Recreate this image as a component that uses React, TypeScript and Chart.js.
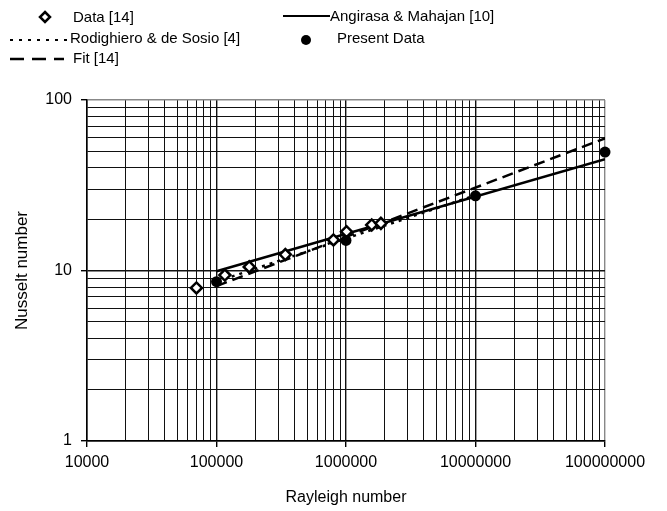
import React, { useEffect, useRef } from 'react';
import { Chart, registerables } from 'chart.js';

Chart.register(...registerables);

// ---- data ----
const dataRa = [70000, 116000, 179000, 340000, 800000, 1010000, 1580000, 1860000];
const dataNu = [7.9, 9.4, 10.5, 12.4, 15.1, 16.9, 18.5, 18.9];

const presentRa = [100000, 1000000, 10000000, 100000000];
const presentNu = [8.6, 15.0, 27.4, 49.5];

const angirasaRa = [100000, 100000000];
const angirasaNu = [9.9, 45.0];

const rodighieroRa = [100000, 10000000];
const rodighieroNu = [8.6, 27.6];

const fitRa = [100000, 100000000];
const fitNu = [8.1, 59.6];

// ---- axis ticks ----
const xDecades = [10000, 100000, 1000000, 10000000, 100000000];
const yDecades = [1, 10, 100];
const minorMultipliers = [2, 3, 4, 5, 6, 7, 8, 9];

const FONT = "'Liberation Sans', Arial, Helvetica, sans-serif";

function buildTicks(decades: number[]) {
  const vals: number[] = [];
  decades.forEach((d, i) => {
    vals.push(d);
    if (i < decades.length - 1) minorMultipliers.forEach((m) => vals.push(d * m));
  });
  return vals;
}
const xTickValues = buildTicks(xDecades);
const yTickValues = buildTicks(yDecades);

const isDecade = (v: number) => {
  const l = Math.log10(v);
  return Math.abs(l - Math.round(l)) < 1e-9;
};

const pts = (xs: number[], ys: number[]) => xs.map((x, i) => ({ x, y: ys[i] }));

const legendPlugin = {
  id: 'customLegend',
  afterDraw(chart: any) {
    const ctx = chart.ctx as CanvasRenderingContext2D;
    ctx.save();
    ctx.fillStyle = '#000';
    ctx.strokeStyle = '#000';
    ctx.font = `15px ${FONT}`;
    ctx.textBaseline = 'middle';
    ctx.textAlign = 'left';

    // Data [14] - open diamond
    const dx = 45, dy = 17, r = 5;
    ctx.lineWidth = 2.5;
    ctx.beginPath();
    ctx.moveTo(dx, dy - r);
    ctx.lineTo(dx + r, dy);
    ctx.lineTo(dx, dy + r);
    ctx.lineTo(dx - r, dy);
    ctx.closePath();
    ctx.fillStyle = '#fff';
    ctx.fill();
    ctx.stroke();
    ctx.fillStyle = '#000';
    ctx.fillText('Data [14]', 73, 18);

    // Rodighiero - dotted
    ctx.lineWidth = 2;
    ctx.setLineDash([3, 6]);
    ctx.beginPath();
    ctx.moveTo(10, 40);
    ctx.lineTo(68, 40);
    ctx.stroke();
    ctx.setLineDash([]);
    ctx.fillText('Rodighiero & de Sosio [4]', 70, 39);

    // Fit - dashed
    ctx.lineWidth = 2.5;
    ctx.setLineDash([14, 8]);
    ctx.beginPath();
    ctx.moveTo(10, 59);
    ctx.lineTo(64, 59);
    ctx.stroke();
    ctx.setLineDash([]);
    ctx.fillText('Fit [14]', 73, 59);

    // Angirasa - solid
    ctx.lineWidth = 2;
    ctx.beginPath();
    ctx.moveTo(283, 16);
    ctx.lineTo(330, 16);
    ctx.stroke();
    ctx.fillText('Angirasa & Mahajan [10]', 330, 17);

    // Present Data - filled dot
    ctx.beginPath();
    ctx.arc(306, 40, 5, 0, Math.PI * 2);
    ctx.fill();
    ctx.fillText('Present Data', 337, 39);

    ctx.restore();
  },
};

export default function App() {
  const canvasRef = useRef<HTMLCanvasElement | null>(null);

  useEffect(() => {
    document.body.style.margin = '0';
    const canvas = canvasRef.current;
    if (!canvas) return;

    const chart = new Chart(canvas, {
      type: 'scatter',
      data: {
        datasets: [
          {
            label: 'Present Data',
            data: pts(presentRa, presentNu),
            showLine: false,
            pointStyle: 'circle',
            pointRadius: 5.5,
            backgroundColor: '#000',
            borderColor: '#000',
            borderWidth: 0,
            clip: false,
            order: 0,
          },
          {
            label: 'Data [14]',
            data: pts(dataRa, dataNu),
            showLine: false,
            pointStyle: 'rectRot',
            pointRadius: 5.5,
            backgroundColor: '#fff',
            borderColor: '#000',
            borderWidth: 2.5,
            order: 1,
          },
          {
            label: 'Angirasa & Mahajan [10]',
            data: pts(angirasaRa, angirasaNu),
            showLine: true,
            pointRadius: 0,
            borderColor: '#000',
            borderWidth: 2.5,
            order: 2,
          },
          {
            label: 'Rodighiero & de Sosio [4]',
            data: pts(rodighieroRa, rodighieroNu),
            showLine: true,
            pointRadius: 0,
            borderColor: '#000',
            borderWidth: 2.5,
            borderDash: [3, 5],
            order: 3,
          },
          {
            label: 'Fit [14]',
            data: pts(fitRa, fitNu),
            showLine: true,
            pointRadius: 0,
            borderColor: '#000',
            borderWidth: 2.5,
            borderDash: [11, 6],
            order: 4,
          },
        ],
      },
      options: {
        responsive: false,
        animation: false,
        events: [],
        layout: { padding: { left: 0, top: 100, right: 62, bottom: 0 } },
        plugins: {
          legend: { display: false },
          tooltip: { enabled: false },
        },
        scales: {
          x: {
            type: 'logarithmic',
            min: 10000,
            max: 100000000,
            afterBuildTicks: (scale: any) => {
              scale.ticks = xTickValues.map((v) => ({ value: v, major: false }));
            },
            afterFit: (scale: any) => {
              scale.height = 70;
            },
            border: { display: true, color: '#000', width: 1.5 },
            grid: {
              color: (c: any) => (c.tick && c.tick.value === 100000000 ? '#888' : '#111'),
              lineWidth: (c: any) => (c.tick && isDecade(c.tick.value) ? 1.4 : 1),
              tickLength: 6,
              tickColor: (c: any) => (c.tick && isDecade(c.tick.value) ? '#000' : 'rgba(0,0,0,0)'),
            },
            ticks: {
              autoSkip: false,
              maxRotation: 0,
              minRotation: 0,
              padding: 6,
              color: '#000',
              font: { family: FONT, size: 16 },
              callback: (v: any) => (isDecade(Number(v)) ? String(Math.round(Number(v))) : ''),
            },
            title: {
              display: true,
              text: 'Rayleigh number',
              color: '#000',
              font: { family: FONT, size: 16 },
              padding: { top: 0, bottom: 4 },
            },
          },
          y: {
            type: 'logarithmic',
            min: 1,
            max: 100,
            afterBuildTicks: (scale: any) => {
              scale.ticks = yTickValues.map((v) => ({ value: v, major: false }));
            },
            afterFit: (scale: any) => {
              scale.width = 87;
            },
            border: { display: true, color: '#000', width: 1.5 },
            grid: {
              color: (c: any) => (c.tick && c.tick.value === 100 ? '#888' : '#111'),
              lineWidth: (c: any) => (c.tick && isDecade(c.tick.value) ? 1.4 : 1),
              tickLength: 6,
              tickColor: (c: any) => (c.tick && isDecade(c.tick.value) ? '#000' : 'rgba(0,0,0,0)'),
            },
            ticks: {
              autoSkip: false,
              padding: 9,
              color: '#000',
              font: { family: FONT, size: 16 },
              callback: (v: any) => (isDecade(Number(v)) ? String(Math.round(Number(v))) : ''),
            },
            title: {
              display: true,
              text: 'Nusselt number',
              color: '#000',
              font: { family: FONT, size: 17 },
              padding: { top: 12, bottom: 0 },
            },
          },
        },
      },
      plugins: [legendPlugin],
    } as any);

    return () => chart.destroy();
  }, []);

  return (
    <div style={{ width: 667, height: 511 }}>
      <canvas ref={canvasRef} width={667} height={511} style={{ display: 'block', width: 667, height: 511 }} />
    </div>
  );
}
